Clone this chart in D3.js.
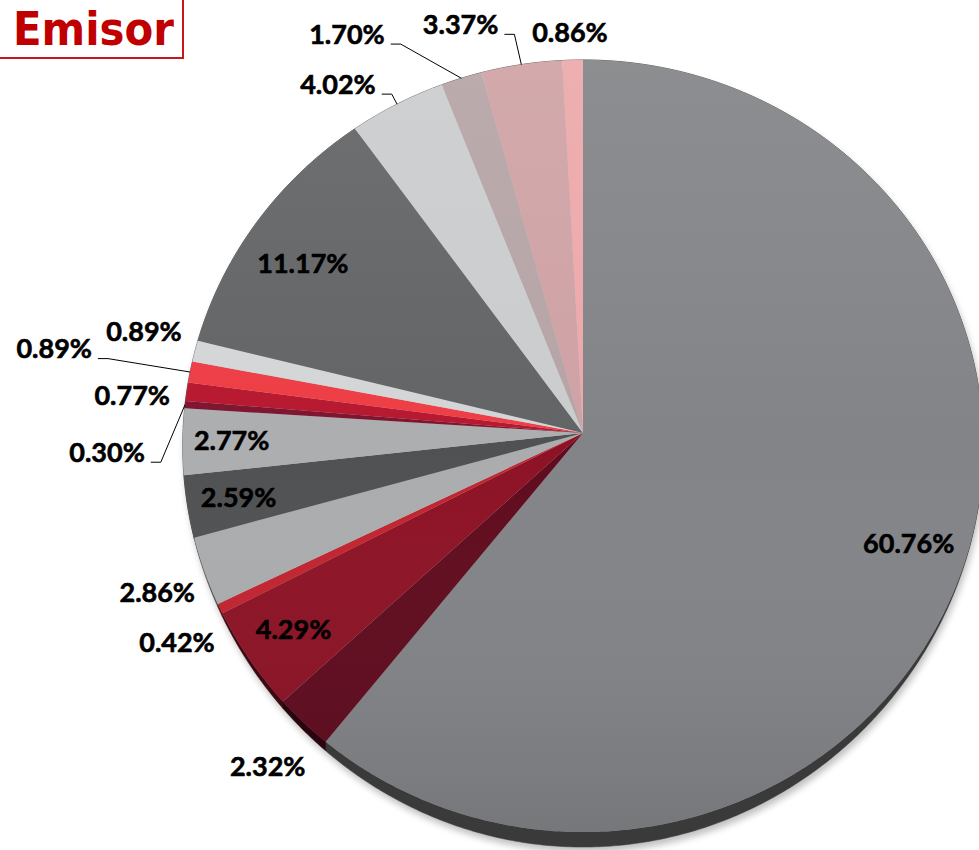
<html>
<head>
<script src="https://d3js.org/d3.v7.min.js"></script>
<style>
  body { margin: 0; background: #fff; }
  text { font-family: Lato, "Open Sans", sans-serif; }
</style>
</head>
<body>
<script>
// slice shares in %, clockwise from 12 o'clock
const shares = [60.76, 2.32, 4.29, 0.42, 2.86, 2.59, 2.77, 0.30, 0.77, 0.89, 0.89, 11.17, 4.02, 1.70, 3.37, 0.86];
const labels = ['60.76%', '2.32%', '4.29%', '0.42%', '2.86%', '2.59%', '2.77%', '0.30%', '0.77%', '0.89%', '0.89%', '11.17%', '4.02%', '1.70%', '3.37%', '0.86%'];
const colors = ['#838487', '#600b1e', '#8d1225', '#c2232f', '#abacae', '#505153', '#adaeb0', '#7e1530',
                '#b7182f', '#ee3d45', '#d4d5d6', '#636466', '#cbcccd', '#b6a4a6', '#cfa2a5', '#eca8aa'];
const title = 'Emisor';

// label layout: [angle in degrees or null for mid angle, radius factor, leader line]
const labelLayout = [
  [null, 0.855, false], [222.4, 1.136, false], [null, 0.87, false], [241.9, 1.13, false],
  [248.8, 1.126, false], [null, 0.872, false], [null, 0.878, false], [267.6, 1.189, true],
  [275.0, 1.135, false], [279.4, 1.35, true], [283.5, 1.139, false], [302.2, 0.84, false],
  [325.9, 1.127, true], [330.3, 1.234, true], [343.9, 1.144, true], [358.2, 1.077, false]
];

const W = 979, H = 850;
const cx = 583, cy = 433, rx = 400, ry = 385.6, persp = 0.0337, depth = 15;

const svg = d3.select('body').append('svg')
  .attr('width', W).attr('height', H);

const defs = svg.append('defs');
const shade = defs.append('linearGradient')
  .attr('id', 'shade').attr('gradientUnits', 'userSpaceOnUse')
  .attr('x1', 0).attr('y1', 60).attr('x2', 0).attr('y2', 832);
shade.append('stop').attr('offset', 0).attr('stop-color', '#fff').attr('stop-opacity', 0.08);
shade.append('stop').attr('offset', 0.5).attr('stop-color', '#fff').attr('stop-opacity', 0);
shade.append('stop').attr('offset', 1).attr('stop-color', '#000').attr('stop-opacity', 0.1);

const blur = defs.append('filter').attr('id', 'shadow')
  .attr('x', -0.1).attr('y', -0.1).attr('width', 1.2).attr('height', 1.2);
blur.append('feGaussianBlur').attr('stdDeviation', 3.5);

// tilted disc: circle in the plane projected with a bit of perspective
function proj(r, a, dy) {
  const s = Math.sin(a), c = Math.cos(a);
  const w = 1 + persp * r * c;
  return [cx + rx * r * s / w, cy - ry * r * c / w + (dy || 0)];
}
// thickness of the visible side wall at angle a
function wall(a) {
  const c = Math.min(0, Math.cos(a));
  return depth * c * c;
}

const line = d3.line();
function arcPts(a0, a1, f) {
  const n = Math.max(2, Math.ceil((a1 - a0) / (Math.PI / 360)));
  const pts = [];
  for (let i = 0; i <= n; i++) {
    const a = a0 + (a1 - a0) * i / n;
    pts.push(proj(1, a, f ? f(a) : 0));
  }
  return pts;
}
function slicePath(a0, a1, dy) {
  return line([proj(0, 0, dy)].concat(arcPts(a0, a1, () => dy || 0))) + 'Z';
}
function sidePath(a0, a1) {
  return line(arcPts(a0, a1).concat(arcPts(a0, a1, wall).reverse())) + 'Z';
}

const pie = d3.pie().sort(null).value(d => d)(shares);

// shadow under the disc
svg.append('path')
  .attr('d', line(arcPts(0, 2 * Math.PI, a => wall(a) + 3)) + 'Z')
  .attr('transform', 'translate(2,2)')
  .attr('fill', '#000').attr('opacity', 0.25)
  .attr('filter', 'url(#shadow)');

// side wall
svg.append('g').selectAll('path')
  .data(pie).join('path')
  .attr('d', d => sidePath(d.startAngle, d.endAngle))
  .attr('fill', (d, i) => d3.color(colors[i]).darker(2.3))
  .attr('stroke', (d, i) => d3.color(colors[i]).darker(2.3))
  .attr('stroke-width', 0.5);

// top surface
svg.append('g').selectAll('path')
  .data(pie).join('path')
  .attr('d', d => slicePath(d.startAngle, d.endAngle, 0))
  .attr('fill', (d, i) => colors[i]);

svg.append('path')
  .attr('d', slicePath(0, 2 * Math.PI, 0))
  .attr('fill', 'url(#shade)');

// labels
const deg = Math.PI / 180;
const lab = svg.append('g');
pie.forEach((d, i) => {
  const [ang, r, leader] = labelLayout[i];
  const mid = (d.startAngle + d.endAngle) / 2;
  const a = ang === null ? mid : ang * deg;
  const p = proj(r, a);
  const t = lab.append('text')
    .attr('x', p[0]).attr('y', p[1])
    .attr('dy', '0.36em')
    .attr('text-anchor', 'middle')
    .attr('font-size', 27).attr('font-weight', 'bold')
    .attr('fill', '#000').attr('stroke', '#000').attr('stroke-width', 0.6)
    .text(labels[i]);
  if (leader) {
    const half = t.node().getComputedTextLength() / 2;
    const x0 = p[0] + half + 6, y0 = p[1] + 10;
    const e = proj(1, mid);
    lab.append('path')
      .attr('d', line([[x0, y0], [x0 + 10, y0], e]))
      .attr('fill', 'none').attr('stroke', '#000').attr('stroke-width', 1);
  }
});

// title box
svg.append('rect')
  .attr('x', -2).attr('y', -2).attr('width', 185).attr('height', 60)
  .attr('fill', '#fff').attr('stroke', '#c8161d').attr('stroke-width', 2);
svg.append('text')
  .attr('x', 13).attr('y', 45)
  .style('font-family', '"DejaVu Sans Condensed", "DejaVu Sans", sans-serif')
  .attr('font-size', 46).attr('font-weight', 'bold')
  .attr('textLength', 161).attr('lengthAdjust', 'spacingAndGlyphs')
  .attr('fill', '#c00000')
  .text(title);
</script>
</body>
</html>
